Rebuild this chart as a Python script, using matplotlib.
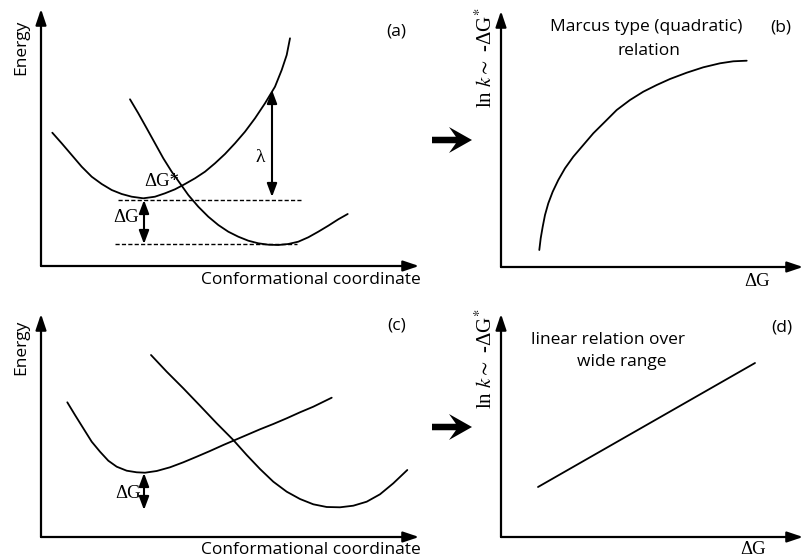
import numpy as np
import matplotlib
matplotlib.use('Agg')
import matplotlib.pyplot as plt

# ---------------- data (figure-pixel coordinates) -------------
# panel (a): two energy parabolas
a_react_x = [52.3, 61.7, 71.7, 81.7, 91.7, 101.7, 111.7, 121.7, 131.7, 143.3, 155, 165, 175, 185,
             195, 205, 215, 225, 235, 245, 255, 265, 275, 281.7, 286.7, 290]
a_react_y = [132.7, 143.3, 155, 166.7, 176.7, 184, 190, 194, 196.7, 198.3, 196.7, 193.3, 189.3, 184,
             178.3, 171.7, 163.3, 154, 143.3, 131.7, 118.3, 103.3, 86.7, 70, 55, 38.3]
a_prod_x = [130, 138.3, 146.7, 155, 163.3, 171.7, 180, 188.3, 198.3, 208.3, 218.3, 228.3, 238.3,
            248.3, 258.3, 268.3, 278.3, 288.3, 298.3, 308.3, 318.3, 328.3, 338.3, 347.7]
a_prod_y = [99.3, 113.3, 128.3, 143.3, 158.3, 171.7, 183.3, 195, 206.7, 216.7, 225, 231.7, 236.7,
            240.7, 243.3, 244.7, 245, 244, 241.7, 237.3, 231.7, 225.7, 219.3, 214]

# panel (b): Marcus type curve
b_x = [539.3, 540.7, 542.7, 545, 548.3, 552.7, 558.3, 565, 573.3, 583.3, 593.3, 605, 616.7, 630,
       643.3, 656.7, 670, 686.7, 703.3, 720, 733.3, 746.7]
b_y = [250, 238.3, 226.7, 215, 203.3, 191.7, 180, 168.3, 156.7, 145, 133.3, 121.7, 110, 100,
       91.7, 85, 79, 72.7, 67.3, 63.3, 61.3, 60.7]

# panel (c): energy curves
c_react_x = [67.3, 75, 83.3, 91.7, 100, 108.3, 116.7, 126.7, 136.7, 145, 156.7, 170, 183.3, 196.7,
             210, 223.3, 235, 246.7, 260, 273.3, 286.7, 300, 313.3, 331.7]
c_react_y = [402.3, 415, 428.3, 441.7, 451.7, 460.7, 466.7, 470.7, 472.3, 472.7, 471, 467.3, 462.3,
             456.7, 451, 445, 440, 435, 429.3, 424, 418.3, 412.3, 406.7, 397.7]
c_prod_x = [151, 166.7, 183.3, 200, 216.7, 233.3, 246.7, 260, 273.3, 286.7, 300, 313.3, 326.7, 340,
            353.3, 366.7, 380, 393.3, 407.3]
c_prod_y = [355, 371.7, 388.3, 405.7, 423.3, 440, 455, 469, 481.7, 491.7, 499, 504.3, 507, 507.3,
            505.7, 501.7, 494.3, 483.3, 470]

# panel (d): linear relation
d_x = [538, 755]
d_y = [487, 363]

W, H = 804, 559
SANS = ['Open Sans', 'DejaVu Sans']
SERIF = ['Liberation Serif', 'DejaVu Serif']
plt.rcParams['mathtext.fontset'] = 'stix'
FS = 12.5

fig = plt.figure(figsize=(W / 100, H / 100), dpi=100)
ax = fig.add_axes([0, 0, 1, 1])
ax.set_xlim(0, W)
ax.set_ylim(H, 0)
ax.axis('off')


def axis_arrow(x0, y0, x1, y1):
    ax.annotate('', xy=(x1, y1), xytext=(x0, y0),
                arrowprops=dict(arrowstyle='-|>,head_length=0.95,head_width=0.32',
                                lw=1.6, color='k', shrinkA=0, shrinkB=0))


def dbl_arrow(x, y0, y1):
    ax.annotate('', xy=(x, y1), xytext=(x, y0),
                arrowprops=dict(arrowstyle='<|-|>,head_length=0.8,head_width=0.3',
                                lw=1.5, color='k', shrinkA=0, shrinkB=0))


def big_arrow(x, y):
    ax.arrow(x, y, 40, 0, width=6.5, head_width=26, head_length=23, overhang=0.3,
             length_includes_head=True, color='k', lw=0)


curve_kw = dict(color='k', lw=1.3, solid_joinstyle='round', solid_capstyle='round')
YLAB = r'ln $k\sim$ -ΔG$^{*}$'

# ---- panel (a)
axis_arrow(41, 266, 41, 9)
axis_arrow(41, 266, 419, 266)
ax.plot(a_react_x, a_react_y, **curve_kw)
ax.plot(a_prod_x, a_prod_y, **curve_kw)
ax.plot([118, 301], [200, 200], color='k', lw=1.0, ls=(0, (3, 1.6)))
ax.plot([115, 297], [244, 244], color='k', lw=1.0, ls=(0, (3, 1.6)))
dbl_arrow(144, 200, 244)
dbl_arrow(272, 90, 197)
ax.text(21, 47, 'Energy', rotation=90, ha='center', va='center', fontsize=FS, family=SANS)
ax.text(311, 280, 'Conformational coordinate', ha='center', va='center', fontsize=FS, family=SANS)
ax.text(396, 32, '(a)', ha='center', va='center', fontsize=FS, family=SANS)
ax.text(126, 218, 'ΔG', ha='center', va='center', fontsize=13.5, family=SERIF)
ax.text(162, 182, 'ΔG*', ha='center', va='center', fontsize=13.5, family=SERIF)
ax.text(260, 157, 'λ', ha='center', va='center', fontsize=14, family=SERIF)

# ---- panel (b)
axis_arrow(501, 267, 501, 11)
axis_arrow(501, 267, 803, 267)
ax.plot(b_x, b_y, **curve_kw)
ax.text(486, 58, YLAB, rotation=90, ha='center', va='center', fontsize=15, family=SERIF)
ax.text(646, 27, 'Marcus type (quadratic)', ha='center', va='center', fontsize=FS, family=SANS)
ax.text(649, 51, 'relation', ha='center', va='center', fontsize=FS, family=SANS)
ax.text(781, 28, '(b)', ha='center', va='center', fontsize=FS, family=SANS)
ax.text(757, 282, 'ΔG', ha='center', va='center', fontsize=13.5, family=SERIF)
big_arrow(432, 140)

# ---- panel (c)
axis_arrow(41, 537, 41, 314)
axis_arrow(41, 537, 419, 537)
ax.plot(c_react_x, c_react_y, **curve_kw)
ax.plot(c_prod_x, c_prod_y, **curve_kw)
dbl_arrow(144, 473, 510)
ax.text(21, 347, 'Energy', rotation=90, ha='center', va='center', fontsize=FS, family=SANS)
ax.text(311, 550, 'Conformational coordinate', ha='center', va='center', fontsize=FS, family=SANS)
ax.text(397, 325, '(c)', ha='center', va='center', fontsize=FS, family=SANS)
ax.text(128, 493, 'ΔG', ha='center', va='center', fontsize=13.5, family=SERIF)

# ---- panel (d)
axis_arrow(501, 537, 501, 314)
axis_arrow(501, 537, 803, 537)
ax.plot(d_x, d_y, **curve_kw)
ax.text(486, 359, YLAB, rotation=90, ha='center', va='center', fontsize=15, family=SERIF)
ax.text(608, 340, 'linear relation over', ha='center', va='center', fontsize=FS, family=SANS)
ax.text(622, 362, 'wide range', ha='center', va='center', fontsize=FS, family=SANS)
ax.text(782, 327, '(d)', ha='center', va='center', fontsize=FS, family=SANS)
ax.text(753, 550, 'ΔG', ha='center', va='center', fontsize=13.5, family=SERIF)
big_arrow(432, 427)

fig.savefig('out.png', dpi=100)
